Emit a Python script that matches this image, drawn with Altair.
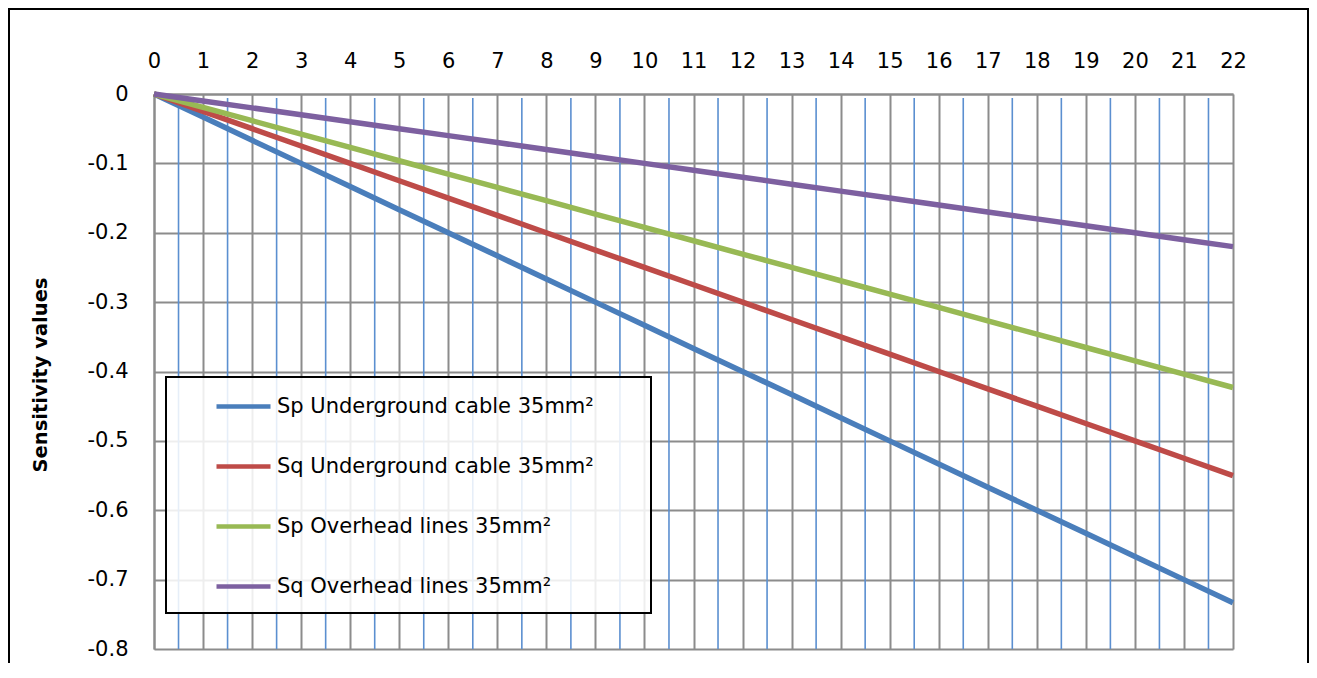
import altair as alt
import pandas as pd

# ---- data ----
x_values = list(range(0, 23))
series_names = [
    "Sp Underground cable 35mm²",
    "Sq Underground cable 35mm²",
    "Sp Overhead lines 35mm²",
    "Sq Overhead lines 35mm²",
]
sp_underground = [0, -0.0333, -0.0667, -0.1, -0.1333, -0.1667, -0.2, -0.2333, -0.2667, -0.3, -0.3333,
                  -0.3667, -0.4, -0.4333, -0.4667, -0.5, -0.5333, -0.5667, -0.6, -0.6333, -0.6667, -0.7, -0.7333]
sq_underground = [0, -0.025, -0.05, -0.075, -0.1, -0.125, -0.15, -0.175, -0.2, -0.225, -0.25,
                  -0.275, -0.3, -0.325, -0.35, -0.375, -0.4, -0.425, -0.45, -0.475, -0.5, -0.525, -0.55]
sp_overhead = [0, -0.0192, -0.0385, -0.0577, -0.0769, -0.0962, -0.1154, -0.1346, -0.1538, -0.1731, -0.1923,
               -0.2115, -0.2308, -0.25, -0.2692, -0.2885, -0.3077, -0.3269, -0.3462, -0.3654, -0.3846, -0.4038, -0.4231]
sq_overhead = [0, -0.01, -0.02, -0.03, -0.04, -0.05, -0.06, -0.07, -0.08, -0.09, -0.1,
               -0.11, -0.12, -0.13, -0.14, -0.15, -0.16, -0.17, -0.18, -0.19, -0.2, -0.21, -0.22]
series_colors = ["#4a7ebb", "#be4b48", "#98b954", "#7d60a0"]

x_ticks = list(range(0, 23))
x_minor_ticks = [0.5, 1.5, 2.5, 3.5, 4.5, 5.5, 6.5, 7.5, 8.5, 9.5, 10.5,
                 11.5, 12.5, 13.5, 14.5, 15.5, 16.5, 17.5, 18.5, 19.5, 20.5, 21.5]
y_ticks = [0, -0.1, -0.2, -0.3, -0.4, -0.5, -0.6, -0.7, -0.8]
y_title = "Sensitivity values"

# ---- tables ----
rows = []
for name, vals in zip(series_names, [sp_underground, sq_underground, sp_overhead, sq_overhead]):
    for xv, yv in zip(x_values, vals):
        rows.append({"x": xv, "value": yv, "series": name})
df = pd.DataFrame(rows)
minor_df = pd.DataFrame({"x": x_minor_ticks})

W, H = 1079, 555
FONT = "DejaVu Sans"
GRID = "#8c8c8c"

x_scale = alt.Scale(domain=[0, 22], nice=False, zero=False)
y_scale = alt.Scale(domain=[-0.8, 0], nice=False, zero=False)

x_axis = alt.Axis(orient="top", values=x_ticks, grid=True, gridColor=GRID, gridWidth=2,
                  domainColor=GRID, domainWidth=2, ticks=False, labelPadding=27,
                  labelBaseline="alphabetic", labelFlush=False, labelOverlap=False,
                  labelFont=FONT, labelFontSize=21, labelColor="black", title=None)
y_axis = alt.Axis(values=y_ticks, grid=True, gridColor=GRID, gridWidth=2,
                  domainColor=GRID, domainWidth=2, ticks=False, labelPadding=26,
                  labelFlush=False, labelOverlap=False,
                  labelExpr="datum.value == 0 ? '0' : '-' + format(abs(datum.value), '.1f')",
                  labelFont=FONT, labelFontSize=21, labelColor="black",
                  title=y_title, titleFont=FONT, titleFontSize=19.5, titleFontWeight="bold",
                  titleColor="black", titleAngle=-90, titleX=-114, titleY=H / 2 + 3,
                  titleAlign="center", titleBaseline="middle")

minor_rules = alt.Chart(minor_df).mark_rule(color="#5b8fd0", strokeWidth=1.6).encode(
    x=alt.X("x:Q", scale=x_scale, axis=x_axis),
    y=alt.value(4),
    y2=alt.value(H),
)

legend_box = alt.Chart(alt.Data(values=[{}])).mark_rect(
    fill="white", fillOpacity=0.85, stroke="black", strokeWidth=2
).encode(
    x=alt.value(12), x2=alt.value(497), y=alt.value(283), y2=alt.value(519)
)

lines = alt.Chart(df).mark_line(strokeWidth=5.5).encode(
    x=alt.X("x:Q", scale=x_scale, axis=x_axis),
    y=alt.Y("value:Q", scale=y_scale, axis=y_axis),
    color=alt.Color(
        "series:N",
        scale=alt.Scale(domain=series_names, range=series_colors),
        sort=series_names,
        legend=alt.Legend(orient="none", legendX=60, legendY=283, title=None,
                          symbolType="stroke", symbolSize=2916, symbolStrokeWidth=4.5,
                          labelFont=FONT, labelFontSize=21, labelColor="black",
                          labelOffset=4, rowPadding=20, padding=0, labelLimit=0),
    ),
    order=alt.Order("x:Q"),
)

border = alt.Chart(alt.Data(values=[{}])).mark_rect(
    fill="white", fillOpacity=0, stroke="black", strokeWidth=2
).encode(
    x=alt.value(-145), x2=alt.value(1154), y=alt.value(-85), y2=alt.value(700)
)

chart = alt.layer(minor_rules, legend_box, lines, border).properties(
    width=W, height=H,
    autosize=alt.AutoSizeParams(type="none"),
    padding={"left": 146, "top": 86, "right": 76, "bottom": 14},
    background="white",
).configure_view(stroke="transparent")

chart.save("out.html", embed_options={"renderer": "svg", "actions": False})
